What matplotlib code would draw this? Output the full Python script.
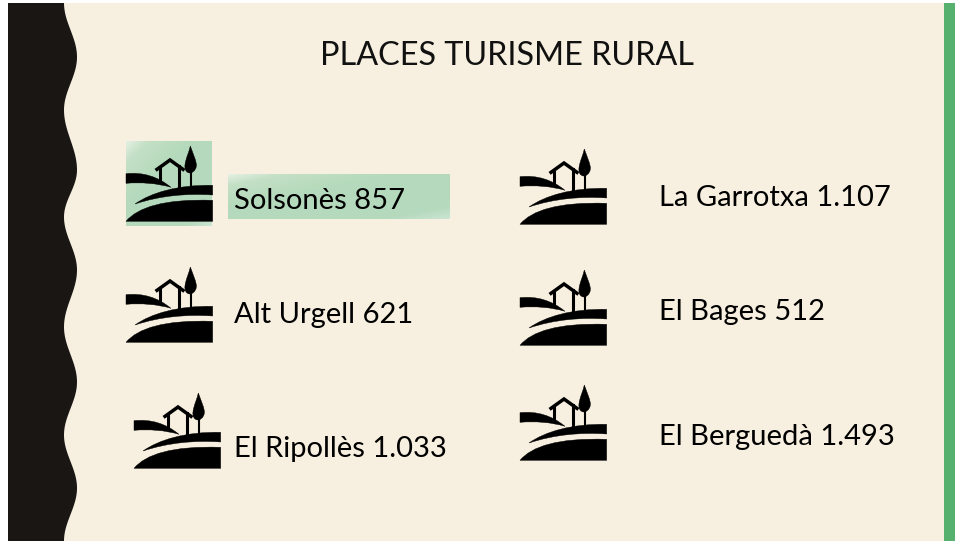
import numpy as np
import matplotlib
matplotlib.use('Agg')
import matplotlib.pyplot as plt
from matplotlib.path import Path
from matplotlib.patches import PathPatch, Rectangle
from matplotlib.colors import LinearSegmentedColormap

# Dades
comarques = ['Solsonès', 'Alt Urgell', 'El Ripollès', 'La Garrotxa', 'El Bages', 'El Berguedà']
places = ['857', '621', '1.033', '1.107', '512', '1.493']
titol = 'PLACES TURISME RURAL'

# Posicions en pixels
text_x = [234, 234, 234, 659, 659, 659]
text_y = [209, 323, 457, 206, 320, 445]
icona_x = [121, 121, 129, 515, 515, 515]
icona_y = [142, 263, 389, 145, 266, 381]

# Vora ondulada: y, x dels extrems
ona_y = [3, 57, 110, 170, 217, 270, 327, 382, 435, 488, 541]
ona_x = [64, 77, 64, 77, 64, 77, 64, 77, 64, 77, 64]

CREMA = '#F7EFDF'
NEGRE = '#191614'
VERD = '#56B06E'

plt.rcParams['font.family'] = ['Lato', 'DejaVu Sans']

fig = plt.figure(figsize=(9.55, 5.41), dpi=100)
ax = fig.add_axes([0, 0, 1, 1])
ax.set_xlim(0, 955)
ax.set_ylim(541, 0)
ax.axis('off')

ax.add_patch(Rectangle((8, 3), 947, 538, color=CREMA, lw=0, zorder=0))
ax.add_patch(Rectangle((944, 3), 11, 538, color=VERD, lw=0, zorder=1))

# Banda negra amb vora corba
ys, xs = [], []
for i in range(len(ona_y) - 1):
    t = np.linspace(0, 1, 30)
    ys.extend(ona_y[i] + (ona_y[i + 1] - ona_y[i]) * t)
    xs.extend(ona_x[i] + (ona_x[i + 1] - ona_x[i]) * (1 - np.cos(np.pi * t)) / 2)
ax.fill([8] + xs + [8], [3] + ys + [541], color=NEGRE, lw=0, zorder=1)


def corba(punts):
    verts = [punts[0]]
    codes = [Path.MOVETO]
    for p in punts[1:]:
        verts.append(p[1:] if p[0] == 'L' else p)
        codes.append(Path.LINETO if p[0] == 'L' else Path.CURVE4)
    verts.append(punts[0])
    codes.append(Path.CLOSEPOLY)
    return Path(verts, codes)


def dibuixa_icona(x0, y0):
    # coordenades de la icona dividides per 3
    def p(x, y):
        return (x0 + x / 3, y0 + y / 3)

    def poligon(*segs):
        out = []
        for s in segs:
            if s[0] == 'L':
                out.append(('L',) + p(s[1], s[2]))
            else:
                out.append(p(*s))
        return corba(out)

    # turons
    ax.add_patch(PathPatch(poligon((15, 95), (65, 90), (110, 103), (150, 136),
                                   (110, 124), (60, 120), ('L', 15, 124)),
                           fc='black', ec='black', lw=0.3, zorder=4))
    ax.add_patch(PathPatch(poligon((42, 186), (90, 152), (170, 128), (275, 130),
                                   ('L', 275, 159), (200, 154), (120, 160), (42, 186)),
                           fc='black', ec='black', lw=0.3, zorder=4))
    ax.add_patch(PathPatch(poligon((15, 238), (50, 196), (130, 170), (275, 175),
                                   ('L', 275, 238)),
                           fc='black', ec='black', lw=0.3, zorder=4))
    # casa
    sostre = [p(108, 82), p(147, 54), p(186, 82)]
    ax.plot(*zip(*sostre), color='black', lw=2.5, solid_joinstyle='miter', zorder=4)
    ax.plot(*zip(p(118, 74), p(118, 120)), color='black', lw=2.2, zorder=4)
    ax.plot(*zip(p(175, 72), p(175, 138)), color='black', lw=2.2, zorder=4)
    # xiprer
    ax.plot(*zip(p(210, 85), p(210, 132)), color='black', lw=1.5, zorder=4)
    ax.add_patch(PathPatch(poligon((208, 12), (216, 35), (228, 60), (226, 72),
                                   (224, 88), (212, 93), (206, 93),
                                   (196, 92), (190, 84), (192, 68),
                                   (194, 50), (204, 30), (208, 12)),
                           fc='black', ec='black', lw=0.3, zorder=4))


def requadre(x0, y0, x1, y1):
    # Ressaltat verd amb la cantonada mes clara
    cmap = LinearSegmentedColormap.from_list(
        'ress', [(0, '#E4F0E2'), (0.12, '#C4E0C6'), (0.35, '#B6DABC'), (0.85, '#B4D9BC'), (1, '#CBE5D2')])
    g = np.add.outer(np.linspace(0, 1, 60), np.linspace(0, 1, 60)) / 2
    ax.imshow(g, extent=(x0, x1, y1, y0), cmap=cmap, aspect='auto', zorder=2, interpolation='bilinear')


requadre(126, 141, 211, 226)
requadre(228, 174, 449, 219)
ax.set_xlim(0, 955)
ax.set_ylim(541, 0)

for i in range(len(comarques)):
    dibuixa_icona(icona_x[i], icona_y[i])
    ax.text(text_x[i], text_y[i], comarques[i] + ' ' + places[i], fontsize=21,
            color='black', va='baseline', ha='left', zorder=5)

ax.text(507, 65, titol, fontsize=23.3, color='#111111', ha='center', va='baseline', zorder=5)

fig.savefig('out.png', dpi=100)
